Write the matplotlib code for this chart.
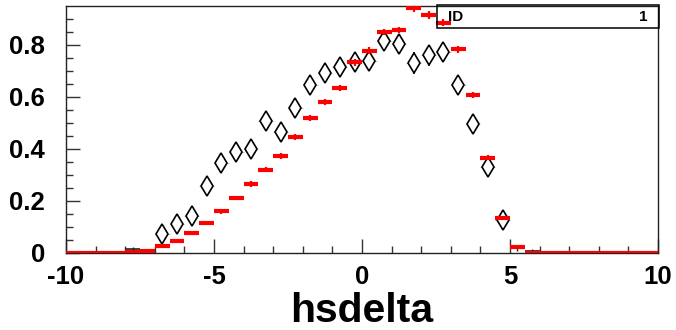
import numpy as np
import matplotlib
matplotlib.use("Agg")
import matplotlib.pyplot as plt
from matplotlib.patches import Rectangle

plt.rcParams['font.family'] = ['Liberation Sans', 'DejaVu Sans']
plt.rcParams['font.weight'] = 'bold'

# ---- data ----
x_min, x_max, n_bins = -10.0, 10.0, 40
red_values = [0, 0, 0, 0, 0.004, 0.009,
              0.026, 0.046, 0.077, 0.114, 0.160, 0.211, 0.265, 0.320, 0.374, 0.447,
              0.520, 0.581, 0.635, 0.733, 0.778, 0.850, 0.858, 0.941, 0.915, 0.886,
              0.783, 0.609, 0.367, 0.136, 0.025,
              0, 0, 0, 0, 0, 0, 0, 0, 0]
red_errors = [0, 0, 0, 0, 0.003, 0.004,
              0.005, 0.006, 0.007, 0.008, 0.009, 0.009, 0.010, 0.010, 0.011, 0.011,
              0.012, 0.012, 0.012, 0.013, 0.013, 0.013, 0.013, 0.014, 0.014, 0.014,
              0.013, 0.012, 0.010, 0.007, 0.004,
              0, 0, 0, 0, 0, 0, 0, 0, 0]
black_values = [0, 0, 0, 0, 0.015, 0.008,
                0.072, 0.112, 0.142, 0.258, 0.347, 0.387, 0.401, 0.507, 0.464, 0.556,
                0.648, 0.694, 0.717, 0.735, 0.738, 0.814, 0.804, 0.730, 0.760, 0.772,
                0.646, 0.496, 0.332, 0.127, 0.020, 0.009,
                0, 0, 0, 0, 0, 0, 0, 0]
black_errors = [0, 0, 0, 0, 0.008, 0.006,
                0.028, 0.028, 0.028, 0.030, 0.030, 0.030, 0.030, 0.030, 0.030, 0.037,
                0.037, 0.035, 0.036, 0.037, 0.035, 0.033, 0.035, 0.042, 0.040, 0.035,
                0.026, 0.028, 0.028, 0.028, 0.012, 0.008,
                0, 0, 0, 0, 0, 0, 0, 0]
x_ticks = [-10, -5, 0, 5, 10]
x_tick_labels = ["-10", "-5", "0", "5", "10"]
y_ticks = [0, 0.2, 0.4, 0.6, 0.8]
y_tick_labels = ["0", "0.2", "0.4", "0.6", "0.8"]
x_label = "hsdelta"
stat_name, stat_value = "ID", "1"

edges = np.linspace(x_min, x_max, n_bins + 1)
lo, hi = edges[:-1], edges[1:]
centers = 0.5 * (lo + hi)
rv = np.array(red_values); re = np.array(red_errors)
bv = np.array(black_values); be = np.array(black_errors)

W, H = 676, 330
fig = plt.figure(figsize=(W / 100, H / 100), dpi=100)
ax = fig.add_axes([66 / W, (H - 253) / H, 592 / W, 247 / H])
ax.set_xlim(x_min, x_max)
ax.set_ylim(0, 0.95)

# black histogram (diamonds + error bars)
big = bv > 0.05
small = (bv > 0) & ~big
ax.vlines(centers[big], bv[big] - be[big], bv[big] + be[big], color='black', lw=1.1, zorder=3)
ax.hlines(bv[big], lo[big], hi[big], color='#b0b0b0', lw=0.6, zorder=2)
ax.plot(centers[big], bv[big], linestyle='none', marker='d', ms=10.5, mfc='white',
        mec='black', mew=1.2, zorder=4)
ax.hlines(bv[small], lo[small], hi[small], color='#222222', lw=1.2, zorder=3)
ax.vlines(centers[small], bv[small] - be[small], bv[small] + be[small], color='#222222', lw=1.0, zorder=3)

# red histogram
ax.hlines(rv, lo, hi, color='#ff0000', lw=3.0, zorder=5)
nz = rv > 0
ax.vlines(centers[nz], rv[nz] - re[nz], rv[nz] + re[nz], color='#ff0000', lw=1.6, zorder=5)

# axes style
for s in ax.spines.values():
    s.set_linewidth(1.0)
    s.set_color('#222222')
ax.set_xticks(x_ticks)
ax.set_xticklabels(x_tick_labels)
ax.set_yticks(y_ticks)
ax.set_yticklabels(y_tick_labels)
ax.set_xticks(np.arange(-9, 10, 1), minor=True)
ax.set_yticks(np.arange(0.05, 0.95, 0.05), minor=True)
ax.tick_params(which='both', direction='in', top=False, right=False, color='#333333')
ax.tick_params(which='major', length=10, width=1.0)
ax.tick_params(which='minor', length=5, width=1.0)
ax.tick_params(axis='x', which='major', labelsize=18.5, pad=8.5)
ax.tick_params(axis='y', which='major', labelsize=18.5, pad=15)
for lab in ax.get_xticklabels() + ax.get_yticklabels():
    lab.set_fontweight('bold')

fig.text(362 / W, (H - 322) / H, x_label, ha='center', va='baseline',
         fontsize=29.5, fontweight='bold')

# stat box
box = Rectangle((437 / W, (H - 28) / H), (659 - 437) / W, 23 / H, transform=fig.transFigure,
                fill=False, edgecolor='black', lw=1.1)
box.set_zorder(0.5)
fig.add_artist(box)
fig.text(448 / W, (H - 17) / H, stat_name, ha='left', va='center', fontsize=11, fontweight='bold')
fig.text(647 / W, (H - 17) / H, stat_value, ha='right', va='center', fontsize=11, fontweight='bold')

fig.savefig("out.png", dpi=100)
